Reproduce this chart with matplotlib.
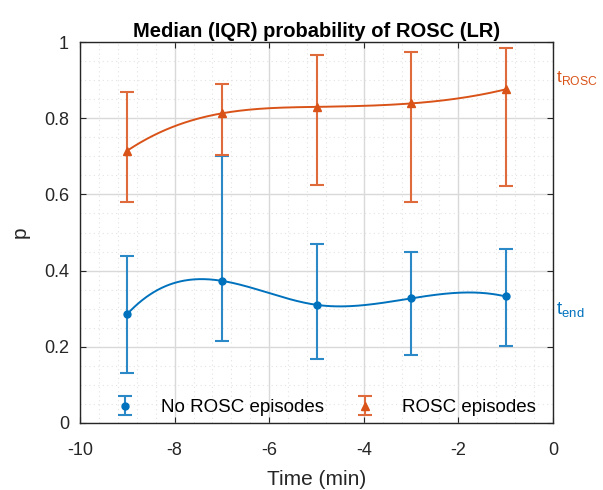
import numpy as np
import matplotlib.pyplot as plt
from matplotlib.ticker import MultipleLocator, FormatStrFormatter

# time points (min)
t = [-9, -7, -5, -3, -1]

# No ROSC episodes: median and IQR
no_med = [0.286, 0.373, 0.310, 0.327, 0.332]
no_lo = [0.130, 0.216, 0.167, 0.177, 0.202]
no_hi = [0.438, 0.701, 0.470, 0.450, 0.456]

# ROSC episodes: median and IQR
ro_med = [0.715, 0.813, 0.830, 0.839, 0.876]
ro_lo = [0.579, 0.703, 0.625, 0.581, 0.623]
ro_hi = [0.870, 0.891, 0.966, 0.973, 0.985]

xticks = [-10, -8, -6, -4, -2, 0]
yticks = [0, 0.2, 0.4, 0.6, 0.8, 1]

blue = '#0072BD'
orange = '#D95319'
# slightly lighter shade for the IQR bars
blue_bar = '#2B89C8'
orange_bar = '#DF6B3C'

plt.rcParams['font.family'] = ['Liberation Sans', 'DejaVu Sans']
plt.rcParams['mathtext.fontset'] = 'custom'
plt.rcParams['mathtext.rm'] = 'Liberation Sans'


def spline(x, y, xx):
    # cubic spline, not-a-knot ends (like matlab spline)
    x = np.asarray(x, float)
    y = np.asarray(y, float)
    n = len(x)
    h = np.diff(x)
    A = np.zeros((n, n))
    b = np.zeros(n)
    A[0, 0], A[0, 1], A[0, 2] = h[1], -(h[0] + h[1]), h[0]
    A[-1, -3], A[-1, -2], A[-1, -1] = h[-1], -(h[-2] + h[-1]), h[-2]
    for i in range(1, n - 1):
        A[i, i - 1] = h[i - 1]
        A[i, i] = 2 * (h[i - 1] + h[i])
        A[i, i + 1] = h[i]
        b[i] = 6 * ((y[i + 1] - y[i]) / h[i] - (y[i] - y[i - 1]) / h[i - 1])
    M = np.linalg.solve(A, b)
    idx = np.clip(np.searchsorted(x, xx) - 1, 0, n - 2)
    x0, x1 = x[idx], x[idx + 1]
    hh = h[idx]
    out = (M[idx] * (x1 - xx) ** 3 / (6 * hh) + M[idx + 1] * (xx - x0) ** 3 / (6 * hh)
           + (y[idx] / hh - M[idx] * hh / 6) * (x1 - xx)
           + (y[idx + 1] / hh - M[idx + 1] * hh / 6) * (xx - x0))
    return out


fig = plt.figure(figsize=(6.03, 4.90), dpi=100)
ax = fig.add_axes([0.1327, 0.137, 0.7844, 0.777])

tt = np.linspace(t[0], t[-1], 300)
ax.plot(tt, spline(t, no_med, tt), color=blue, lw=1.4)
ax.plot(tt, spline(t, ro_med, tt), color=orange, lw=1.4)

med = np.array(no_med)
e1 = ax.errorbar(t, no_med, yerr=[med - np.array(no_lo), np.array(no_hi) - med],
                 fmt='o', ms=5, color=blue, ecolor=blue_bar, elinewidth=1.5,
                 capsize=5, capthick=1.5, label='No ROSC episodes')
med = np.array(ro_med)
e2 = ax.errorbar(t, ro_med, yerr=[med - np.array(ro_lo), np.array(ro_hi) - med],
                 fmt='^', ms=6, color=orange, ecolor=orange_bar, elinewidth=1.5,
                 capsize=5, capthick=1.5, label='ROSC episodes')

ax.set_xlim(-10, 0)
ax.set_ylim(0, 1)
ax.set_xticks(xticks)
ax.set_yticks(yticks)
ax.xaxis.set_major_formatter(FormatStrFormatter('%g'))
ax.yaxis.set_major_formatter(FormatStrFormatter('%g'))
ax.xaxis.set_minor_locator(MultipleLocator(0.4))
ax.yaxis.set_minor_locator(MultipleLocator(0.05))
ax.grid(True, which='major', color='#d9d9d9', lw=1.0)
ax.grid(True, which='minor', color='#e3e3e3', lw=0.8, ls=(0, (1, 3)))
ax.set_axisbelow(True)
ax.tick_params(which='both', direction='in', top=True, right=True,
               labelsize=13, colors='#262626', length=4)
ax.tick_params(which='minor', length=0)
ax.tick_params(axis='x', pad=14)
ax.tick_params(axis='y', pad=8)
for s in ax.spines.values():
    s.set_color('#262626')
    s.set_linewidth(1.0)

ax.set_xlabel('Time (min)', fontsize=15, color='#262626', labelpad=8)
ax.set_ylabel('p', fontsize=15, color='#262626', labelpad=10)
ax.set_title('Median (IQR) probability of ROSC (LR)', fontsize=14.5, fontweight='bold',
             pad=4)

ax.text(0.07, 0.905, r't$_{\mathrm{ROSC}}$', color=orange, fontsize=12.5,
        va='center', ha='left', clip_on=False)
ax.text(0.07, 0.295, r't$_{\mathrm{end}}$', color=blue, fontsize=13.5,
        va='center', ha='left', clip_on=False)

ax.legend(handles=[e1, e2], loc='lower center', ncol=2, frameon=False,
          fontsize=13.5, columnspacing=1.45, handlelength=1.5, handletextpad=1.2,
          bbox_to_anchor=(0.514, -0.027))

plt.savefig('out.png', dpi=100)
